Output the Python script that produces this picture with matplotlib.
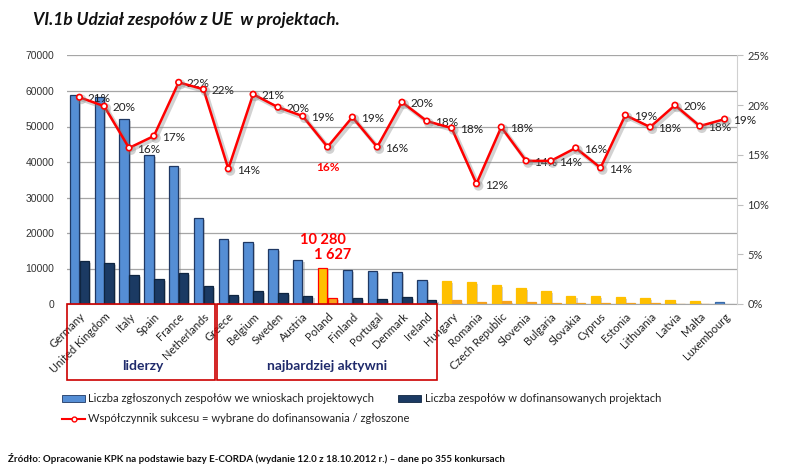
import matplotlib
matplotlib.use("Agg")
import matplotlib.pyplot as plt
import matplotlib.patheffects as pe
from matplotlib.patches import Rectangle
from matplotlib.lines import Line2D
import numpy as np

plt.rcParams["font.family"] = ["Lato", "DejaVu Sans"]

countries = ["Germany", "United Kingdom", "Italy", "Spain", "France", "Netherlands",
             "Greece", "Belgium", "Sweden", "Austria", "Poland", "Finland", "Portugal",
             "Denmark", "Ireland", "Hungary", "Romania", "Czech Republic", "Slovenia",
             "Bulgaria", "Slovakia", "Cyprus", "Estonia", "Lithuania", "Latvia", "Malta",
             "Luxembourg"]
submitted = [59000, 58300, 52000, 42000, 38900, 24200, 18200, 17500, 15500, 12300,
             10280, 9700, 9400, 8900, 6900, 6500, 6100, 5400, 4500, 3800, 2250, 2250,
             1900, 1750, 1000, 750, 650]
funded = [12200, 11600, 8300, 7100, 8700, 5200, 2500, 3700, 3100, 2300, 1627, 1800,
          1400, 1900, 1200, 1000, 650, 900, 650, 350, 220, 220, 220, 220, 120, 100, 130]
success_rate = [20.8, 19.9, 15.7, 16.9, 22.3, 21.6, 13.6, 21.1, 19.8, 18.9, 15.8, 18.8,
                15.8, 20.3, 18.4, 17.7, 12.1, 17.8, 14.4, 14.4, 15.7, 13.7, 19.0, 17.8,
                20.0, 17.9, 18.6]
new_members = ["Hungary", "Romania", "Czech Republic", "Slovenia", "Bulgaria", "Slovakia",
               "Cyprus", "Estonia", "Lithuania", "Latvia", "Malta"]
highlight = "Poland"

W, H = 785, 476


def px(x, y):
    return x / W, 1 - y / H


fig = plt.figure(figsize=(W / 100, H / 100), dpi=100)
ax = fig.add_axes([67 / W, 1 - 304 / H, (737 - 67) / W, (304 - 55.5) / H])

x = np.arange(len(countries))
bw = 0.38
blue, navy = "#558ED5", "#1B3A63"
yellow, orange = "#FFC000", "#F7A21B"

c1, c2, e1, e2 = [], [], [], []
for name in countries:
    if name == highlight:
        c1.append(yellow); c2.append(orange); e1.append("#FF0000"); e2.append("#FF0000")
    elif name in new_members:
        c1.append(yellow); c2.append(orange); e1.append(yellow); e2.append(orange)
    elif name == "Luxembourg":
        c1.append(blue); c2.append("#C9D5E3"); e1.append("#3A6BA8"); e2.append("#C9D5E3")
    else:
        c1.append(blue); c2.append(navy); e1.append("#1F3864"); e2.append("#0F2540")

shadow = [pe.SimplePatchShadow(offset=(1.5, -1.5), shadow_rgbFace="grey", alpha=0.35),
          pe.Normal()]
b1 = ax.bar(x - 0.2, submitted, bw, color=c1, edgecolor=e1, linewidth=0.9, zorder=2)
b2 = ax.bar(x + 0.2, funded, bw, color=c2, edgecolor=e2, linewidth=0.9, zorder=2)
for b in list(b1) + list(b2):
    b.set_path_effects(shadow)

ax.set_xlim(-0.5, len(countries) - 0.5)
ax.set_ylim(0, 70000)
ax.set_yticks(np.arange(0, 70001, 10000))
ax.tick_params(axis="y", length=0, labelsize=7.5, colors="#333333", pad=9)
for t in ax.get_yticklabels():
    t.set_family(["Liberation Sans", "DejaVu Sans"])
ax.yaxis.grid(True, color="#A6A6A6", linewidth=0.9)
ax.set_axisbelow(True)
ax.set_xticks(x)
ax.set_xticklabels(countries, rotation=45, ha="right", rotation_mode="anchor",
                   fontsize=8, color="#222222")
ax.tick_params(axis="x", length=0, pad=5)
for s in ["top", "left", "right"]:
    ax.spines[s].set_visible(False)
ax.spines["bottom"].set_color("#A6A6A6")

ip = countries.index(highlight)
ax.annotate(f"{submitted[ip]:,}".replace(",", " "), (ip - 0.2, submitted[ip]),
            xytext=(0, 20), textcoords="offset points", ha="center", va="center",
            color="#FF0000", fontsize=10.5, fontweight="bold")
ax.annotate(f"{funded[ip]:,}".replace(",", " "), (ip + 0.2, funded[ip]),
            xytext=(0, 31), textcoords="offset points", ha="center", va="center",
            color="#FF0000", fontsize=10.5, fontweight="bold")

ax2 = ax.twinx()
ax2.set_ylim(0, 25)
ax2.set_yticks(np.arange(0, 26, 5))
ax2.set_yticklabels([f"{v}%" for v in range(0, 26, 5)])
ax2.tick_params(axis="y", length=4, color="#BFBFBF", labelsize=8, colors="#333333")
ax2.tick_params(axis="y", color="#BFBFBF")
for s in ["top", "left", "bottom"]:
    ax2.spines[s].set_visible(False)
ax2.spines["right"].set_color("#D0D0D0")

line, = ax2.plot(x, success_rate, color="#FF0000", linewidth=1.8, marker="o",
                 markersize=4, markerfacecolor="white", markeredgecolor="#FF0000",
                 markeredgewidth=1.2, zorder=5)
line.set_path_effects([pe.SimpleLineShadow(offset=(1.5, -1.5), shadow_color="grey",
                                           alpha=0.35, linewidth=3), pe.Normal()])
for i, r in enumerate(success_rate):
    if countries[i] == highlight:
        ax2.annotate(f"{round(r)}%", (i, r), xytext=(0, -15), textcoords="offset points",
                     ha="center", va="center", color="#FF0000", fontsize=8.5,
                     fontweight="bold")
    else:
        ax2.annotate(f"{round(r)}%", (i, r), xytext=(6, -1), textcoords="offset points",
                     ha="left", va="center", color="#222222", fontsize=8.5)

# group boxes under the axis
for x0, x1 in [(67, 215), (217, 437)]:
    fig.add_artist(Rectangle(px(x0, 380), (x1 - x0) / W, 76 / H, fill=False,
                             edgecolor="#CC0000", linewidth=1.2,
                             transform=fig.transFigure))
for xc, label in [(143, "liderzy"), (327, "najbardziej aktywni")]:
    fig.text(*px(xc, 366), label, ha="center", va="center", fontsize=10,
             fontweight="bold", color="#1F2A6B")

# legend
fig.add_artist(Rectangle(px(62, 402), 23 / W, 7 / H, facecolor=blue, edgecolor="#1F3864",
                         linewidth=0.6, transform=fig.transFigure))
fig.text(*px(88, 398), "Liczba zgłoszonych zespołów we wnioskach projektowych",
         va="center", fontsize=8, color="#222222")
fig.add_artist(Rectangle(px(398, 402), 23 / W, 7 / H, facecolor=navy, edgecolor="#0F2540",
                         linewidth=0.6, transform=fig.transFigure))
fig.text(*px(425, 398), "Liczba zespołów w dofinansowanych projektach",
         va="center", fontsize=8, color="#222222")
fig.add_artist(Line2D([62 / W, 85 / W], [1 - 419 / H] * 2, color="#FF0000", linewidth=1.5,
                      transform=fig.transFigure))
fig.add_artist(Line2D([73.5 / W], [1 - 419 / H], marker="o", markersize=3.5,
                      markerfacecolor="white", markeredgecolor="#FF0000",
                      transform=fig.transFigure))
fig.text(*px(88, 419), "Współczynnik sukcesu = wybrane do dofinansowania / zgłoszone",
         va="center", fontsize=8, color="#222222")

fig.text(*px(33, 20), "VI.1b Udział zespołów z UE  w projektach.", va="center",
         fontsize=12.5, fontweight="bold", fontstyle="italic", color="#111111")
fig.text(*px(8, 458), "Źródło: Opracowanie KPK na podstawie bazy E-CORDA (wydanie 12.0 z "
         "18.10.2012 r.) – dane po 355 konkursach", va="center", fontsize=7,
         fontweight="bold", color="#111111")

fig.savefig("out.png", dpi=100)
